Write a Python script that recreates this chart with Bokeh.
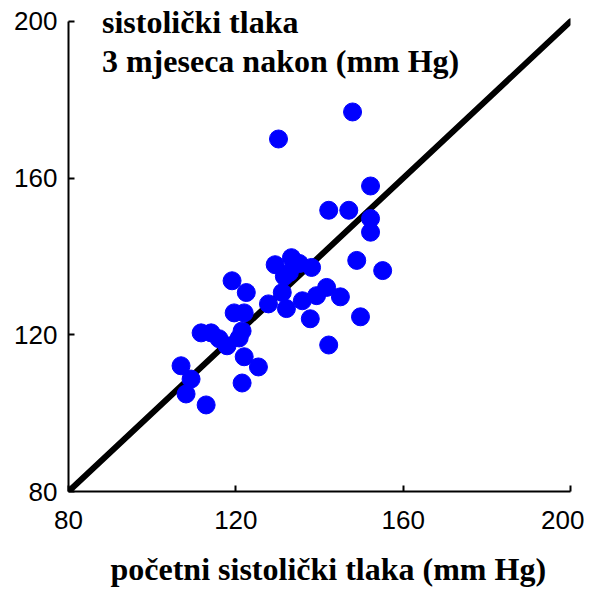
from bokeh.plotting import figure
from bokeh.models import FixedTicker, Label, Title
from bokeh.embed import file_html
from bokeh.resources import INLINE

# baseline systolic pressure (x) vs. after 3 months (y), mm Hg
x_vals = [130.2, 147.9, 152.2, 142.2, 147.0, 152.2, 152.2, 148.9, 155.1, 129.4,
          133.3, 135.2, 138.1, 132.8, 131.6, 119.1, 122.5, 131.1, 127.8, 132.1,
          135.9, 139.3, 141.7, 145.0, 137.8, 149.8, 142.2, 119.6, 122.0, 111.7,
          114.1, 116.0, 117.9, 120.8, 121.5, 122.0, 125.4, 121.5, 106.9, 109.3,
          108.1, 112.9]
y_vals = [170.0, 176.9, 158.0, 151.8, 151.8, 149.7, 146.2, 139.0, 136.4, 137.9,
          139.7, 138.2, 137.2, 135.9, 134.9, 133.8, 130.8, 130.8, 127.9, 126.7,
          128.7, 130.0, 132.1, 129.7, 124.1, 124.6, 117.4, 125.6, 125.6, 120.5,
          120.5, 119.0, 117.2, 119.2, 121.0, 114.4, 111.8, 107.7, 112.1, 108.7,
          104.9, 102.1]
diag = [80, 200]
ticks = [80, 120, 160, 200]
title_lines = ["sistolički tlaka", "3 mjeseca nakon (mm Hg)"]
x_title = "početni sistolički tlaka (mm Hg)"

p = figure(frame_width=502, frame_height=486, x_range=(80, 200), y_range=(80, 204.08),
           output_backend="svg", toolbar_location=None,
           min_border_left=68, min_border_top=5, min_border_right=14, min_border_bottom=2)
p.grid.visible = False
p.outline_line_color = None
p.background_fill_color = "white"
p.border_fill_color = "white"

for ax in (p.xaxis[0], p.yaxis[0]):
    ax.ticker = FixedTicker(ticks=ticks)
    ax.bounds = (80, 200)
    ax.axis_line_width = 2
    ax.axis_line_color = "black"
    ax.major_tick_line_width = 2
    ax.major_tick_in = 6
    ax.major_tick_out = 0
    ax.minor_tick_line_color = None
    ax.major_label_text_font = "Liberation Sans"
    ax.major_label_text_font_size = "26px"
    ax.major_label_text_color = "black"

p.xaxis.major_label_standoff = 19
p.yaxis.major_label_standoff = 11

p.line(diag, diag, line_width=6, line_color="black", line_cap="round")
p.scatter(x_vals, y_vals, size=18, fill_color="#0000FF", line_color="#0000FF")

for txt, yy in zip(title_lines, [199.9, 190.0]):
    p.add_layout(Label(x=88.0, y=yy, text=txt, text_font="Liberation Serif",
                       text_font_style="bold", text_font_size="32px",
                       text_color="black", text_baseline="alphabetic"))

p.add_layout(Title(text=x_title, align="left", offset=42, standoff=34,
                   text_font="Liberation Serif", text_font_style="bold",
                   text_font_size="32px", text_color="black"), "below")

open("out.html", "w").write(file_html(p, INLINE))
